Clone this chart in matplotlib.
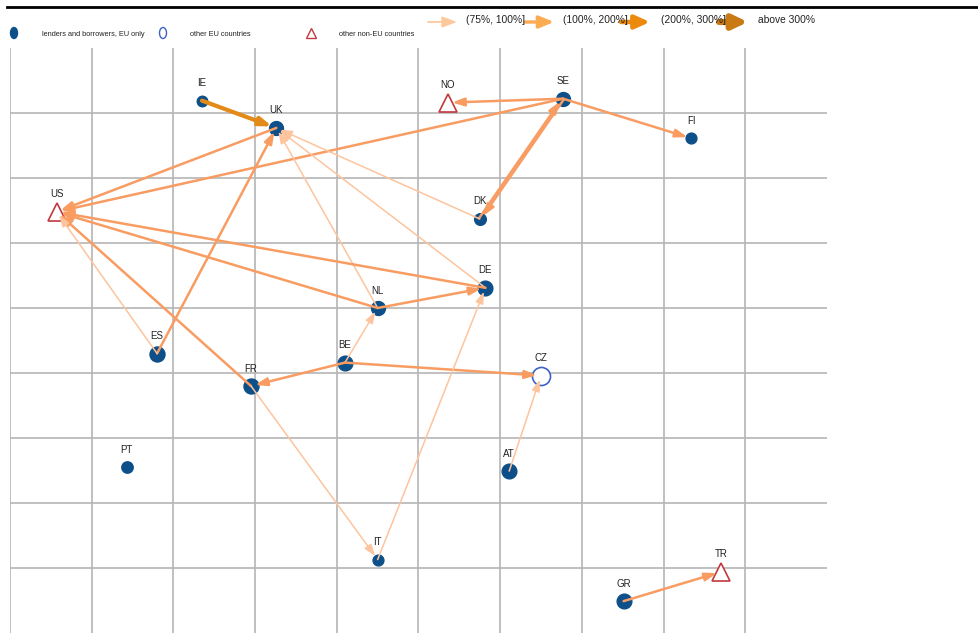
import numpy as np
import matplotlib
matplotlib.use("Agg")
import matplotlib.pyplot as plt
from matplotlib.patches import FancyArrowPatch, Ellipse
from matplotlib.lines import Line2D
import matplotlib.transforms as mtransforms

# ---------------- data ----------------
countries = ["IE", "UK", "NO", "SE", "FI", "US", "DK", "DE", "NL",
             "ES", "BE", "CZ", "FR", "PT", "AT", "IT", "TR", "GR"]
pos_x = [2.35, 3.26, 5.36, 6.77, 8.34, 0.57, 5.75, 5.82, 4.50,
         1.80, 4.10, 6.50, 2.95, 1.43, 6.11, 4.50, 8.70, 7.51]
pos_y = [8.19, 7.77, 8.16, 8.22, 7.61, 6.48, 6.37, 5.31, 5.00,
         4.30, 4.16, 3.96, 3.80, 2.55, 2.49, 1.13, 0.94, 0.49]
node_type = ["eu", "eu", "noneu", "eu", "eu", "noneu", "eu", "eu", "eu",
             "eu", "eu", "othereu", "eu", "eu", "eu", "eu", "noneu", "eu"]
node_weight = [7.6, 10.0, 13.0, 10.0, 7.8, 12.8, 8.4, 10.6, 10.0,
               10.8, 10.6, 13.0, 10.8, 8.2, 10.6, 7.8, 13.0, 10.6]

edge_from = ["IE", "SE", "SE", "SE", "SE", "DK", "UK", "ES", "NL", "DK", "DE", "DE",
             "NL", "FR", "ES", "NL", "BE", "BE", "BE", "AT", "FR", "IT", "GR"]
edge_to   = ["UK", "NO", "US", "FI", "DK", "SE", "US", "UK", "UK", "UK", "UK", "US",
             "US", "US", "US", "DE", "NL", "FR", "CZ", "CZ", "IT", "DE", "TR"]
edge_cat  = [2, 1, 1, 1, 1, 1, 1, 1, 0, 0, 0, 1,
             1, 1, 0, 1, 0, 1, 1, 0, 0, 0, 1]

cat_labels = ["(75%, 100%]", "(100%, 200%]", "(200%, 300%]", "above 300%"]
node_legend_labels = ["lenders and borrowers, EU only", "other EU countries",
                      "other non-EU countries"]

# ---------------- styles ----------------
W, H = 979, 633
line_colors = ["#fdc49e", "#f89c62", "#e38a18", "#c8760e"]
line_widths = [1.1, 1.8, 3.0, 4.0]
legend_arrow_colors = ["#fdc99c", "#fbab52", "#ec8a0e", "#c97a14"]
legend_arrow_widths = [1.3, 2.4, 3.2, 4.4]
blue = "#0d5089"
red = "#c0393f"
open_blue = "#3d63c9"
grid_c = "#b5b5b5"
sans = ["Liberation Sans", "DejaVu Sans"]

fig = plt.figure(figsize=(W / 100, H / 100), dpi=100)
fig.patch.set_facecolor("white")


def fx(px):
    return px / W


def fy(py):
    return 1 - py / H


ax = fig.add_axes([fx(10), 0, (827 - 10) / W, 585 / H])
ax.set_xlim(0, 10)
ax.set_ylim(0, 9)
ax.axis("off")

for gx in range(0, 10):
    ax.axvline(gx, color=grid_c, lw=1.2, zorder=0)
for gy in range(1, 9):
    ax.axhline(gy, color=grid_c, lw=1.2, zorder=0)

idx = {c: i for i, c in enumerate(countries)}

# nodes
for i, c in enumerate(countries):
    t = node_type[i]
    if t == "eu":
        ax.plot(pos_x[i], pos_y[i], "o", ms=node_weight[i], color=blue,
                mec=blue, zorder=2)
    elif t == "othereu":
        ax.plot(pos_x[i], pos_y[i], "o", ms=node_weight[i], mfc="white",
                mec=open_blue, mew=1.2, zorder=2)
    else:
        ax.plot(pos_x[i], pos_y[i], "^", ms=node_weight[i], mfc="white",
                mec=red, mew=1.2, zorder=2)
    ax.annotate(c, (pos_x[i], pos_y[i]), xytext=(0, 12.6),
                textcoords="offset points", ha="center", va="center",
                fontsize=7, color="#222222", family=sans, zorder=5)

# edges
pairs = set(zip(edge_from, edge_to))
fig.canvas.draw()
for s, t, c in zip(edge_from, edge_to, edge_cat):
    i, j = idx[s], idx[t]
    trans = ax.transData
    if (t, s) in pairs:
        p1 = ax.transData.transform((pos_x[i], pos_y[i]))
        p2 = ax.transData.transform((pos_x[j], pos_y[j]))
        d = p2 - p1
        n = np.array([-d[1], d[0]]) / np.hypot(*d) * 1.0
        trans = ax.transData + mtransforms.Affine2D().translate(n[0], n[1])
    arr = FancyArrowPatch((pos_x[i], pos_y[i]), (pos_x[j], pos_y[j]),
                          transform=trans,
                          arrowstyle="-|>,head_length=0.7,head_width=0.24",
                          mutation_scale=10, lw=line_widths[c],
                          color=line_colors[c], shrinkA=0, shrinkB=3,
                          zorder=3)
    ax.add_patch(arr)

# ---------------- legend ----------------
fig.add_artist(Line2D([fx(7), 1], [fy(7), fy(7)], transform=fig.transFigure,
                      color="black", lw=2.0))

fig.add_artist(Ellipse((fx(14), fy(33)), 7 / W, 11 / H, transform=fig.transFigure,
                       facecolor=blue, edgecolor=blue))
fig.text(fx(42), fy(34), node_legend_labels[0], fontsize=5.3, family=sans,
         va="center", ha="left", color="#222222")
fig.add_artist(Ellipse((fx(163), fy(33)), 7 / W, 11 / H, transform=fig.transFigure,
                       facecolor="white", edgecolor=open_blue, lw=1.0))
fig.text(fx(190), fy(34), node_legend_labels[1], fontsize=5.3, family=sans,
         va="center", ha="left", color="#222222")
fig.add_artist(Line2D([fx(311)], [fy(33)], transform=fig.transFigure, marker="^",
                      ms=7.5, mfc="white", mec=red, mew=1.0, ls="none"))
fig.text(fx(339), fy(34), node_legend_labels[2], fontsize=5.3, family=sans,
         va="center", ha="left", color="#222222")

arrow_x0 = [428, 525, 621, 719]
text_x0 = [466, 563, 661, 758]
head_w = [0.30, 0.33, 0.36, 0.38]
for k in range(4):
    a = FancyArrowPatch((fx(arrow_x0[k]), fy(22)), (fx(arrow_x0[k] + 29), fy(22)),
                        transform=fig.transFigure,
                        arrowstyle=f"-|>,head_length=0.8,head_width={head_w[k]}",
                        mutation_scale=11, lw=legend_arrow_widths[k],
                        color=legend_arrow_colors[k], shrinkA=0, shrinkB=0)
    fig.add_artist(a)
    fig.text(fx(text_x0[k]), fy(20), cat_labels[k], fontsize=7.4, family=sans,
             va="center", ha="left", color="#222222")

fig.savefig("out.png", dpi=100, facecolor="white")
